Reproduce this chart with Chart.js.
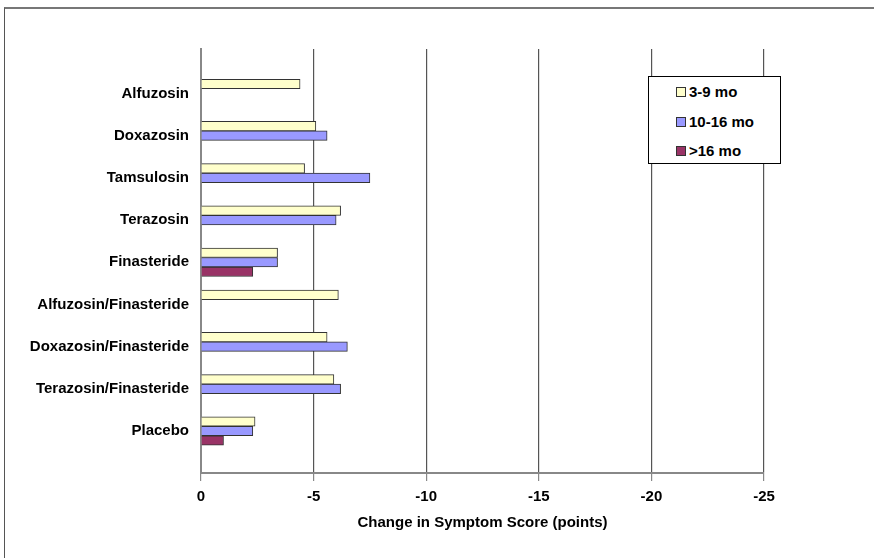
<!DOCTYPE html>
<html>
<head>
<meta charset="utf-8">
<script src="https://cdn.jsdelivr.net/npm/chart.js@4"></script>
<style>
    body { margin: 0; background: #fff; font-family: "Liberation Sans", Arial, sans-serif; }
    #frame { position: absolute; left: 4px; top: 7px; width: 880px; height: 560px; border-left: 1px solid #555; border-top: 2px solid #777; }
    #wrap { position: absolute; left: 0; top: 0; width: 874px; height: 558px; }
    #legend { position: absolute; left: 648px; top: 76px; width: 133px; height: 88px; border: 1px solid #000; background: #fff; box-sizing: border-box; }
    .item { position: absolute; left: 27px; font-weight: bold; font-size: 15px; line-height: 18px; color: #000; }
    .item span { display: inline-block; width: 8px; height: 8px; border: 1px solid #333; margin-right: 3px; vertical-align: 0px; }
</style>
</head>
<body>
<div id="frame"></div>
<div id="wrap"><canvas id="symptomChart" width="874" height="558"></canvas></div>
<div id="legend"></div>
<script>
const categories = ['Alfuzosin', 'Doxazosin', 'Tamsulosin', 'Terazosin', 'Finasteride',
    'Alfuzosin/Finasteride', 'Doxazosin/Finasteride', 'Terazosin/Finasteride', 'Placebo'];
const seriesNames = ['3-9 mo', '10-16 mo', '>16 mo'];
const months3to9 = [-4.4, -5.1, -4.6, -6.2, -3.4, -6.1, -5.6, -5.9, -2.4];
const months10to16 = [null, -5.6, -7.5, -6.0, -3.4, null, -6.5, -6.2, -2.3];
const months16plus = [null, null, null, null, -2.3, null, null, null, -1.0];
const xTicks = [0, -5, -10, -15, -20, -25];
const colors = ['#ffffcc', '#9999ff', '#993366'];

document.addEventListener("DOMContentLoaded", function(){
    const ctx = document.getElementById('symptomChart').getContext('2d');
    const font = { family: '"Liberation Sans", Arial, sans-serif', size: 15, weight: 'bold' };
    const seriesData = [months3to9, months10to16, months16plus];

    const chart = new Chart(ctx, {
        type: 'bar',
        data: {
            labels: categories,
            datasets: seriesData.map((d, i) => ({
                label: seriesNames[i],
                data: d,
                backgroundColor: colors[i],
                borderColor: '#333',
                borderWidth: 1,
                barThickness: 9.5
            }))
        },
        options: {
            indexAxis: 'y',
            responsive: false,
            animation: false,
            layout: { padding: { left: 0, right: 110, top: 49, bottom: 0 } },
            plugins: {
                legend: { display: false },
                tooltip: { enabled: false }
            },
            scales: {
                x: {
                    min: -25,
                    max: 0,
                    reverse: true,
                    afterBuildTicks: (s) => { s.ticks = xTicks.map(v => ({ value: v })); },
                    afterFit: (s) => { s.height = 85; },
                    grid: { color: '#555', lineWidth: 1.2, tickLength: 8, tickColor: '#888' },
                    border: { color: '#888', width: 2 },
                    ticks: { color: '#000', font: font, padding: 7 },
                    title: {
                        display: true,
                        text: 'Change in Symptom Score (points)',
                        color: '#000',
                        font: font,
                        padding: { top: 4, bottom: 26 }
                    }
                },
                y: {
                    afterFit: (s) => { s.width = 201; },
                    // leave extra room above and below the groups like the original
                    afterBuildTicks: (s) => { s._valueRange += 1.05; s._startValue -= 0.555; },
                    grid: { display: false, drawTicks: false },
                    border: { color: '#888', width: 2 },
                    ticks: { color: '#000', font: font, padding: 12 }
                }
            }
        }
    });

    const legend = document.getElementById('legend');
    chart.data.datasets.forEach((ds, i) => {
        const item = document.createElement('div');
        item.className = 'item';
        item.style.top = (6 + i * 29.5) + 'px';
        const box = document.createElement('span');
        box.style.background = ds.backgroundColor;
        item.appendChild(box);
        item.appendChild(document.createTextNode(ds.label));
        legend.appendChild(item);
    });
});
</script>
</body>
</html>
